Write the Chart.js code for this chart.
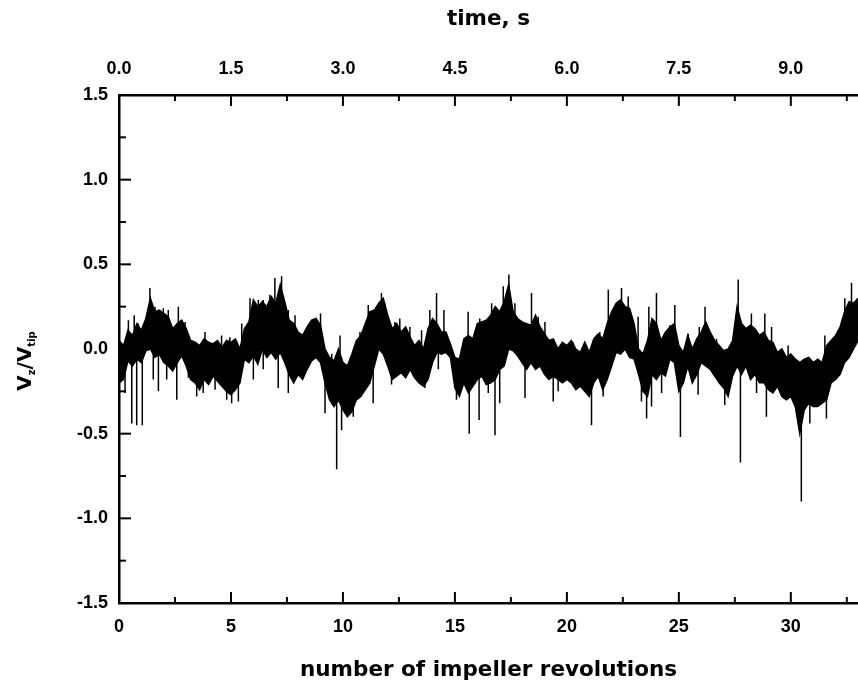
<!DOCTYPE html>
<html><head><meta charset="utf-8">
<script src="https://cdn.jsdelivr.net/npm/chart.js@4"></script>
<style>html,body{margin:0;padding:0;background:#fff}canvas{display:block}</style>
</head><body>
<canvas id="c" width="858" height="683"></canvas>
<script>
// envelope of the velocity trace (upper / lower edge of the dense band)
const bandRev = [0,0.2,0.4,0.6,0.8,1.0,1.2,1.4,1.6,1.8,2.0,2.2,2.4,2.6,2.8,3.0,3.2,3.4,3.6,3.8,4.0,4.2,4.4,4.6,4.8,5.0,5.2,5.4,5.6,5.8,6.0,6.2,6.4,6.6,6.8,7.0,7.2,7.4,7.6,7.8,8.0,8.2,8.4,8.6,8.8,9.0,9.2,9.4,9.6,9.8,10.0,10.2,10.4,10.6,10.8,11.0,11.2,11.4,11.6,11.8,12.0,12.2,12.4,12.6,12.8,13.0,13.2,13.4,13.6,13.8,14.0,14.2,14.4,14.6,14.8,15.0,15.2,15.4,15.6,15.8,16.0,16.2,16.4,16.6,16.8,17.0,17.2,17.4,17.6,17.8,18.0,18.2,18.4,18.6,18.8,19.0,19.2,19.4,19.6,19.8,20.0,20.2,20.4,20.6,20.8,21.0,21.2,21.4,21.6,21.8,22.0,22.2,22.4,22.6,22.8,23.0,23.2,23.4,23.6,23.8,24.0,24.2,24.4,24.6,24.8,25.0,25.2,25.4,25.6,25.8,26.0,26.2,26.4,26.6,26.8,27.0,27.2,27.4,27.6,27.8,28.0,28.2,28.4,28.6,28.8,29.0,29.2,29.4,29.6,29.8,30.0,30.2,30.4,30.6,30.8,31.0,31.2,31.4,31.6,31.8,32.0,32.2,32.4,32.6,32.8,33.0];
const bandHi = [0.05,0.02,0.11,0.08,0.15,0.11,0.18,0.30,0.22,0.23,0.21,0.19,0.12,0.15,0.17,0.12,0.05,0.04,0.02,0.06,0.04,0.03,0.05,0.01,0.05,0.04,0.06,0.00,0.12,0.16,0.29,0.25,0.28,0.25,0.31,0.27,0.38,0.28,0.17,0.15,0.10,0.08,0.13,0.17,0.18,0.14,0.00,-0.05,-0.07,0.00,-0.08,-0.10,-0.03,0.05,0.08,0.15,0.22,0.23,0.27,0.30,0.20,0.12,0.15,0.10,0.13,0.07,0.02,0.05,0.00,0.12,0.18,0.15,0.10,0.10,0.03,-0.05,-0.06,0.06,0.08,0.06,0.15,0.16,0.17,0.20,0.25,0.22,0.28,0.38,0.22,0.18,0.16,0.15,0.14,0.20,0.13,0.09,0.05,0.06,0.00,0.04,0.02,0.05,0.00,-0.02,0.04,-0.02,0.06,0.09,0.06,0.15,0.22,0.27,0.29,0.25,0.24,0.15,0.00,-0.03,0.05,0.18,0.15,0.05,0.10,0.13,0.15,0.02,-0.02,0.08,0.00,0.06,0.10,0.16,0.10,0.05,0.02,-0.01,0.00,0.05,0.25,0.15,0.12,0.14,0.12,0.08,0.10,0.05,0.04,-0.02,0.00,-0.05,-0.03,-0.06,-0.08,-0.06,-0.05,-0.08,-0.06,-0.08,0.02,0.05,0.08,0.13,0.22,0.28,0.27,0.30];
const bandLo = [-0.20,-0.18,-0.07,-0.10,-0.06,-0.08,-0.01,0.00,-0.05,-0.03,-0.08,-0.10,-0.13,-0.08,-0.04,-0.10,-0.18,-0.20,-0.24,-0.18,-0.21,-0.16,-0.19,-0.22,-0.25,-0.27,-0.24,-0.20,-0.06,-0.08,-0.04,-0.09,0.00,-0.05,-0.02,-0.06,-0.02,-0.08,-0.15,-0.20,-0.15,-0.18,-0.12,-0.07,-0.05,-0.08,-0.20,-0.30,-0.34,-0.30,-0.36,-0.40,-0.37,-0.30,-0.28,-0.24,-0.20,-0.10,0.00,-0.03,-0.10,-0.18,-0.16,-0.14,-0.17,-0.12,-0.17,-0.20,-0.22,-0.18,-0.08,-0.02,-0.03,-0.02,-0.05,-0.23,-0.28,-0.20,-0.26,-0.22,-0.18,-0.16,-0.21,-0.20,-0.18,-0.12,-0.10,0.00,-0.01,-0.04,-0.08,-0.12,-0.08,-0.12,-0.10,-0.15,-0.18,-0.16,-0.18,-0.20,-0.18,-0.20,-0.24,-0.22,-0.25,-0.28,-0.20,-0.16,-0.24,-0.18,-0.10,-0.02,-0.03,0.00,-0.05,-0.06,-0.15,-0.25,-0.28,-0.15,-0.18,-0.14,-0.16,-0.06,-0.08,-0.25,-0.20,-0.10,-0.20,-0.15,-0.08,-0.10,-0.12,-0.16,-0.20,-0.23,-0.28,-0.16,-0.10,-0.15,-0.10,-0.18,-0.15,-0.20,-0.20,-0.24,-0.26,-0.22,-0.28,-0.30,-0.28,-0.34,-0.50,-0.36,-0.32,-0.34,-0.34,-0.32,-0.30,-0.20,-0.18,-0.15,-0.08,-0.05,0.00,0.05];
// isolated spikes reaching above the band
const spikeUpRev = [0.42,0.68,0.86,1.38,1.61,1.98,2.2,2.65,2.95,3.24,3.84,4.58,4.95,5.48,5.85,6.22,6.44,6.74,6.96,7.26,7.56,7.86,8.68,9.0,9.5,9.87,10.76,11.13,11.72,11.87,12.32,12.54,12.99,13.51,13.88,14.18,14.51,15.59,16.11,16.64,17.16,17.41,17.68,18.42,18.72,19.02,20.28,20.73,21.47,21.85,22.44,22.74,23.18,23.66,24.0,24.6,24.82,25.42,25.91,26.17,26.68,27.65,28.24,28.84,29.14,29.88,31.52,31.89,32.41,32.71,32.93];
const spikeUpTip = [0.17,0.20,0.15,0.36,0.25,0.24,0.23,0.25,0.16,0.05,0.10,0.08,0.07,0.15,0.30,0.29,0.29,0.32,0.42,0.43,0.23,0.20,0.17,0.21,-0.03,0.08,0.10,0.26,0.33,0.27,0.16,0.18,0.13,0.11,0.23,0.33,0.23,0.22,0.18,0.27,0.37,0.44,0.27,0.33,0.19,0.16,0.04,0.00,0.10,0.35,0.36,0.31,0.19,0.25,0.33,0.14,0.26,0.09,0.13,0.25,0.06,0.41,0.21,0.21,0.13,0.02,0.08,0.06,0.30,0.39,0.28];
// isolated spikes reaching below the band
const spikeDnRev = [0.27,0.57,0.79,1.04,1.53,1.76,2.13,2.58,3.1,3.47,3.76,4.29,4.81,5.03,5.33,6.0,6.44,7.11,7.56,9.2,9.72,9.94,10.46,11.35,12.17,13.21,13.66,14.26,15.07,15.64,16.08,16.49,16.79,17.0,18.13,19.39,19.61,21.1,21.62,23.33,23.56,23.78,24.23,25.07,25.86,27.05,27.75,28.47,28.91,30.47,30.85,31.59];
const spikeDnTip = [-0.26,-0.44,-0.45,-0.45,-0.18,-0.25,-0.18,-0.30,-0.17,-0.28,-0.26,-0.24,-0.30,-0.32,-0.31,-0.18,-0.12,-0.23,-0.26,-0.38,-0.71,-0.48,-0.40,-0.32,-0.21,-0.15,-0.23,-0.12,-0.30,-0.50,-0.42,-0.26,-0.51,-0.32,-0.29,-0.31,-0.25,-0.45,-0.28,-0.31,-0.41,-0.34,-0.26,-0.52,-0.27,-0.33,-0.67,-0.26,-0.40,-0.90,-0.44,-0.41];
// axis tick labels
const bottomLabels = ['0','5','10','15','20','25','30'];
const topLabels = ['0.0','1.5','3.0','4.5','6.0','7.5','9.0'];
const yLabels = ['-1.5','-1.0','-0.5','0.0','0.5','1.0','1.5'];

const upper = bandRev.map((r,i)=>({x:r,y:bandHi[i]}));
const lower = bandRev.map((r,i)=>({x:r,y:bandLo[i]}));
function nearestMid(r){
  let k = 0, best = 1e9;
  bandRev.forEach((b,j)=>{ if (Math.abs(b-r) < best){best=Math.abs(b-r);k=j;} });
  return (bandHi[k]+bandLo[k])/2;
}
const spikes = [];
spikeUpRev.forEach((r,i)=>{ spikes.push({x:r,y:nearestMid(r)},{x:r,y:spikeUpTip[i]},{x:r,y:null}); });
spikeDnRev.forEach((r,i)=>{ spikes.push({x:r,y:nearestMid(r)},{x:r,y:spikeDnTip[i]},{x:r,y:null}); });

const near = (v,s)=>Math.abs(v/s-Math.round(v/s))<1e-6;
const tickFont = {family:'Liberation Sans, Arial, sans-serif', size:18, weight:'bold'};
const titleFont = {family:'DejaVu Sans, sans-serif', size:21.5, weight:'bold', lineHeight:1.2};

const inwardTicks = {
  id:'inwardTicks',
  afterDraw(chart){
    const ctx = chart.ctx, a = chart.chartArea;
    ctx.save(); ctx.strokeStyle='#000'; ctx.lineWidth=2;
    const xs = chart.scales.x, x2 = chart.scales.x2, ys = chart.scales.y;
    for (let v=0; v<=33+1e-9; v+=2.5){
      const p = xs.getPixelForValue(v), L = near(v,5)?11:6;
      ctx.beginPath(); ctx.moveTo(p,a.bottom); ctx.lineTo(p,a.bottom-L); ctx.stroke();
    }
    for (let v=0; v<=9.9+1e-9; v+=0.75){
      const p = x2.getPixelForValue(v), L = near(v,1.5)?11:6;
      ctx.beginPath(); ctx.moveTo(p,a.top); ctx.lineTo(p,a.top+L); ctx.stroke();
    }
    for (let v=-1.5; v<=1.5+1e-9; v+=0.25){
      const p = ys.getPixelForValue(v), L = near(v,0.5)?12:7;
      ctx.beginPath(); ctx.moveTo(a.left,p); ctx.lineTo(a.left+L,p); ctx.stroke();
    }
    // y-axis title with subscripts
    ctx.translate(24, 361); ctx.rotate(-Math.PI/2);
    ctx.fillStyle='#000'; ctx.textBaseline='alphabetic';
    const big='bold 20px "DejaVu Sans", sans-serif', small='bold 10px "DejaVu Sans", sans-serif';
    const parts=[['V',big,0],['z',small,4],['/V',big,0],['tip',small,4]];
    let w=0; parts.forEach(p=>{ctx.font=p[1]; w+=ctx.measureText(p[0]).width;});
    let x=-w/2;
    parts.forEach(p=>{ctx.font=p[1]; ctx.fillText(p[0],x,7+p[2]); x+=ctx.measureText(p[0]).width;});
    ctx.restore();
  }
};

new Chart(document.getElementById('c'), {
  type:'line',
  data:{datasets:[
    {label:'upper', data:upper, borderColor:'#000', backgroundColor:'#000', borderWidth:1.5, pointRadius:0, tension:0, fill:'+1'},
    {label:'lower', data:lower, borderColor:'#000', backgroundColor:'#000', borderWidth:1.5, pointRadius:0, tension:0, fill:false},
    {label:'spikes', data:spikes, borderColor:'#000', borderWidth:1.5, pointRadius:0, tension:0, fill:false, spanGaps:false}
  ]},
  options:{
    responsive:false, animation:false, devicePixelRatio:1,
    layout:{padding:0},
    plugins:{legend:{display:false}, tooltip:{enabled:false}},
    scales:{
      x:{type:'linear', position:'bottom', min:0, max:33,
        afterFit(s){s.height=80; s.paddingRight=0; s.paddingLeft=0;},
        grid:{display:false, drawTicks:false}, border:{display:true, color:'#000', width:2.5},
        ticks:{stepSize:2.5, autoSkip:false, maxRotation:0, color:'#000', font:tickFont, padding:13,
          callback:(v)=> near(v,5) ? bottomLabels[Math.round(v/5)] : ''},
        title:{display:true, text:'number of impeller revolutions', color:'#000', font:titleFont, padding:{top:0,bottom:0}}},
      x2:{type:'linear', position:'top', min:0, max:9.9,
        afterFit(s){s.height=95; s.paddingRight=0; s.paddingLeft=0;},
        grid:{display:false, drawTicks:false}, border:{display:true, color:'#000', width:2.5},
        ticks:{stepSize:0.75, autoSkip:false, maxRotation:0, color:'#000', font:tickFont, padding:15,
          callback:(v)=> near(v,1.5) ? topLabels[Math.round(v/1.5)] : ''},
        title:{display:true, text:'time, s', color:'#000', font:titleFont, padding:{top:7,bottom:0}}},
      y:{type:'linear', position:'left', min:-1.5, max:1.5,
        afterFit(s){s.width=119;},
        grid:{display:false, drawTicks:false}, border:{display:true, color:'#000', width:2.5},
        ticks:{stepSize:0.25, autoSkip:false, color:'#000', font:tickFont, padding:11,
          callback:(v)=> near(v,0.5) ? yLabels[Math.round((v+1.5)/0.5)] : ''}}
    }
  },
  plugins:[inwardTicks]
});
</script>
</body></html>
